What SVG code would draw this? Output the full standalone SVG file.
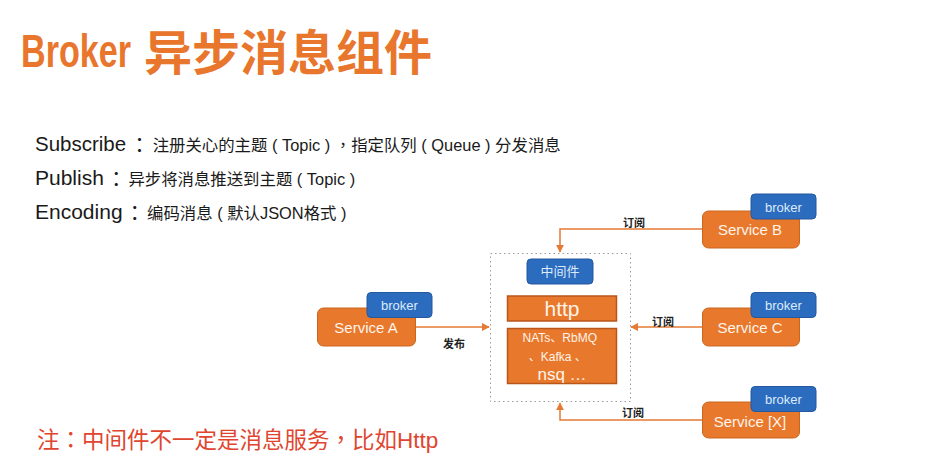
<svg xmlns="http://www.w3.org/2000/svg" width="926" height="471" viewBox="0 0 926 471">
  <defs>
    <marker id="arr" viewBox="0 0 10 10" refX="9" refY="5" markerWidth="8" markerHeight="8" markerUnits="userSpaceOnUse" orient="auto">
      <path d="M0,0 L10,5 L0,10 z" fill="#E57A35"/>
    </marker>
    <style>
      .cjk { font-family: "Liberation Sans", "Noto Sans CJK SC", sans-serif; }
      .pn { font-family: "Noto Sans CJK TC", sans-serif; }
      .svc { fill: #E8792C; stroke: #C9661E; stroke-width: 1; }
      .tab { fill: #2C6CBE; stroke: #24599E; stroke-width: 1; }
      .svc-t { font-family: "Liberation Sans", sans-serif; font-size: 15px; fill: #FFF3EA; text-anchor: middle; }
      .tab-t { font-family: "Liberation Sans", sans-serif; font-size: 13px; fill: #DCEAFA; text-anchor: middle; }
      .lbl { font-family: "Noto Sans CJK SC", sans-serif; font-size: 11px; font-weight: bold; fill: #222; }
      .wire { fill: none; stroke: #E57A35; stroke-width: 1.5; }
      .mw { fill: #E8792C; stroke: #B9561B; stroke-width: 1.5; }
    </style>
  </defs>
  <rect width="926" height="471" fill="#FFFFFF"/>

  <!-- title: condensed Latin word followed by the CJK heading -->
  <g id="title" fill="#E8762D" font-weight="bold">
    <text transform="translate(21,67) scale(0.742,1)" font-family="Liberation Sans, sans-serif" font-size="46">Broker</text>
    <text x="144" y="70" font-family="Noto Sans CJK SC, sans-serif" font-size="48">异步消息组件</text>
  </g>

  <!-- definitions -->
  <g id="definitions" class="cjk" fill="#1A1A1A">
    <text x="35" y="151"><tspan font-size="20.5">Subscribe</tspan><tspan class="pn" dx="3" dy="2" font-size="20.5">：</tspan><tspan dx="3" dy="-2" font-size="16.4">注册关心的主题&#160;(&#160;Topic&#160;)&#160;</tspan><tspan class="pn" font-size="16.4">，</tspan><tspan font-size="16.4">指定队列&#160;(&#160;Queue&#160;)&#160;分发消息</tspan></text>
    <text x="35" y="185"><tspan font-size="21">Publish</tspan><tspan class="pn" dx="2" dy="2" font-size="20.5">：</tspan><tspan dx="2" dy="-2" font-size="16.4">异步将消息推送到主题&#160;(&#160;Topic&#160;)</tspan></text>
    <text x="35" y="219"><tspan font-size="21">Encoding</tspan><tspan class="pn" dx="2" dy="2" font-size="20.5">：</tspan><tspan dx="2" dy="-2" font-size="16.4">编码消息&#160;(&#160;默认JSON格式&#160;)</tspan></text>
  </g>

  <!-- connectors -->
  <g id="connectors">
    <path class="wire" d="M416,327 L489,327" marker-end="url(#arr)"/>
    <path class="wire" d="M702,229 L560,229 L560,252" marker-end="url(#arr)"/>
    <path class="wire" d="M702,327 L631,327" marker-end="url(#arr)"/>
    <path class="wire" d="M702,420 L560,420 L560,403" marker-end="url(#arr)"/>
    <text class="lbl" x="443" y="348">发布</text>
    <text class="lbl" x="623" y="227">订阅</text>
    <text class="lbl" x="652" y="326">订阅</text>
    <text class="lbl" x="622" y="417">订阅</text>
  </g>

  <!-- middleware container -->
  <g id="middleware">
    <rect x="490.5" y="253.5" width="140" height="148" fill="none" stroke="#9A9A9A" stroke-width="1" stroke-dasharray="1.5,3"/>
    <rect x="527" y="259" width="66" height="25" rx="4" class="tab"/>
    <text x="560" y="276" font-family="Noto Sans CJK SC, sans-serif" font-size="13" fill="#DCEAFA" text-anchor="middle">中间件</text>
    <rect x="507.5" y="296" width="109" height="25" class="mw"/>
    <text x="562" y="316" font-family="Liberation Sans, sans-serif" font-size="21" fill="#FFF3EA" text-anchor="middle">http</text>
    <rect x="507.5" y="328.5" width="109" height="55" class="mw"/>
    <text font-family="Liberation Sans, Noto Sans CJK SC, sans-serif" fill="#FFF3EA" text-anchor="middle">
      <tspan x="562" y="342" font-size="12">NATs、RbMQ</tspan>
      <tspan x="560" y="361" font-size="12">、Kafka 、</tspan>
      <tspan x="562" y="380" font-size="17">nsq …</tspan>
    </text>
  </g>

  <!-- services -->
  <g id="service-a">
    <rect x="317.5" y="308" width="98" height="38" rx="6" class="svc"/>
    <text x="366" y="333" class="svc-t">Service A</text>
    <rect x="367" y="292.5" width="65" height="25" rx="4" class="tab"/>
    <text x="399.5" y="310" class="tab-t">broker</text>
  </g>
  <g id="service-b">
    <rect x="702.5" y="211" width="97" height="37" rx="6" class="svc"/>
    <text x="750" y="235" class="svc-t">Service B</text>
    <rect x="751" y="194" width="65" height="25" rx="4" class="tab"/>
    <text x="783.5" y="212" class="tab-t">broker</text>
  </g>
  <g id="service-c">
    <rect x="702.5" y="308" width="97" height="38" rx="6" class="svc"/>
    <text x="750" y="333" class="svc-t">Service C</text>
    <rect x="751" y="292.5" width="65" height="25" rx="4" class="tab"/>
    <text x="783.5" y="310" class="tab-t">broker</text>
  </g>
  <g id="service-x">
    <rect x="702.5" y="402" width="97" height="36" rx="6" class="svc"/>
    <text x="750" y="427" class="svc-t">Service [X]</text>
    <rect x="751" y="386.5" width="65" height="25" rx="4" class="tab"/>
    <text x="783.5" y="404" class="tab-t">broker</text>
  </g>

  <!-- note -->
  <g id="note">
    <text x="37" y="448" font-family="Liberation Sans, Noto Sans CJK SC, sans-serif" font-size="22.5" fill="#E0452F">注<tspan class="pn">：</tspan>中间件不一定是消息服务<tspan class="pn">，</tspan>比如Http</text>
  </g>
</svg>
